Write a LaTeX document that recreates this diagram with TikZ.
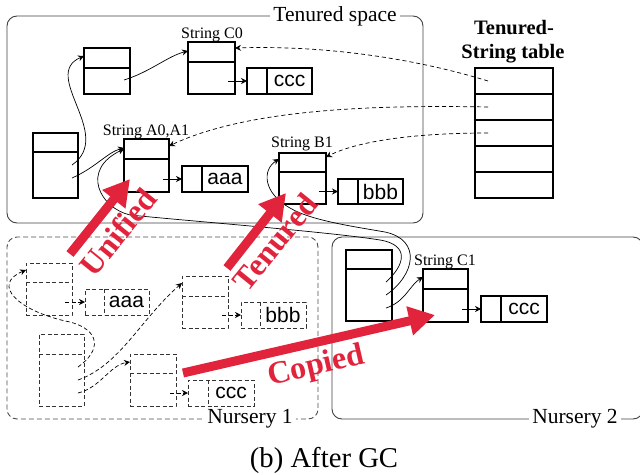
\documentclass[tikz,border=0pt]{standalone}
\usepackage{fontspec}
\setmainfont{Liberation Serif}
\newfontfamily\sansf{Liberation Sans}
\usetikzlibrary{arrows.meta,fit}
\definecolor{hired}{RGB}{226,35,60}
\tikzset{
 objbox/.style={draw=black, line width=1.2pt, inner sep=0pt, outer sep=0pt},
 dobj/.style={draw=black!80, line width=0.8pt, dash pattern=on 4pt off 2.5pt, inner sep=0pt, outer sep=0pt},
 ptr/.style={-{Stealth[length=6pt,width=6pt,inset=2pt]}, line width=0.7pt},
 dptr/.style={ptr, dash pattern=on 4pt off 2.5pt},
 tabptr/.style={ptr, dash pattern=on 4pt off 3pt},
 region/.style={draw=black!75, line width=0.9pt, rounded corners=10pt, inner sep=0pt},
 reglabel/.style={fill=white, inner sep=3pt, font=\fontsize{21.5}{24}\selectfont},
 strlabel/.style={font=\fontsize{16}{18}\selectfont, anchor=base, inner sep=0pt},
 titlelabel/.style={font=\bfseries\fontsize{20.5}{23}\selectfont, anchor=base, inner sep=0pt},
 datatext/.style={font=\sansf\fontsize{21}{24}\selectfont, inner sep=0pt},
 bigred/.style={draw=hired, line width=9pt, -{Triangle[length=26pt,width=28pt]}},
 redtext/.style={text=hired, font=\bfseries\fontsize{32}{34}\selectfont, inner sep=0pt},
}
\newcommand{\ptrbox}[7]{%
 \node[#2, fit={(#3,#4)(#5,#6)}] (#1) {};
 \draw[#2] (#3,#7) -- (#5,#7);
}
\newcommand{\strbox}[8]{%
 \node[#2, fit={(#3,#4)(#5,#6)}] (#1) {};
 \draw[#2] (#7,#4) -- (#7,#6);
 \node[datatext] at ({(#7+#5)/2},{(#4+#6)/2}) {#8};
}
\begin{document}
\begin{tikzpicture}[x=1pt,y=-1pt]
\useasboundingbox (0,0) rectangle (640,474);
% regions
\node[region, fit={(7,16)(423,223)}] (tenured) {};
\node[reglabel] (tenlbl) at (335,16) {Tenured space};
\node[region, draw=black!70, dash pattern=on 5pt off 3pt, fit={(7,237)(318,419)}] (nur1) {};
\node[reglabel] (n1lbl) at (250,419) {Nursery 1};
\node[region, fit={(332,237)(643,419)}] (nur2) {};
\node[reglabel] (n2lbl) at (575,419) {Nursery 2};
% table
\node[titlelabel] (tt1) at (514,34) {Tenured-};
\node[titlelabel] (tt2) at (513,58) {String table};
\node[objbox, fit={(475,68)(553,198)}] (tbl) {};
\foreach \yy in {94,120,146,172} \draw[line width=1.2pt] (475,\yy) -- (553,\yy);
% tenured objects
\ptrbox{t0}{objbox}{84}{48}{130}{94}{68}
\ptrbox{c0}{objbox}{188}{42}{235}{94}{62}
\strbox{c0s}{objbox}{247}{68}{312}{94}{267}{ccc}
\ptrbox{tl}{objbox}{33}{133}{78}{198}{152}
\ptrbox{a01}{objbox}{124}{139}{169}{192}{159}
\strbox{a0s}{objbox}{182}{166}{248}{192}{202}{aaa}
\ptrbox{b1}{objbox}{279}{153}{326}{204}{172}
\strbox{b1s}{objbox}{338}{179}{403}{204}{358}{bbb}
% nursery 2
\ptrbox{nl2}{objbox}{346}{250}{392}{321}{269}
\ptrbox{c1}{objbox}{423}{269}{468}{322}{289}
\strbox{c1s}{objbox}{481}{296}{547}{322}{501}{ccc}
% nursery 1
\ptrbox{na}{dobj}{26}{263}{72}{315}{282}
\strbox{nas}{dobj}{85}{289}{149}{315}{104}{aaa}
\ptrbox{nb}{dobj}{182}{276}{228}{328}{296}
\strbox{nbs}{dobj}{241}{302}{306}{328}{260}{bbb}
\ptrbox{nl}{dobj}{39}{334}{84}{406}{354}
\ptrbox{nc}{dobj}{130}{354}{176}{406}{373}
\strbox{ncs}{dobj}{188}{380}{254}{406}{208}{ccc}
% labels
\node[strlabel] (lc0) at (212,38) {String C0};
\node[strlabel] (la) at (146,135) {String A0,A1};
\node[strlabel] (lb) at (302,147) {String B1};
\node[strlabel] (lc1) at (445,265) {String C1};
% short pointers
\coordinate (pc0) at (228,81); \draw[ptr] (pc0) -- (c0s.west);
\coordinate (pa) at (163,179); \draw[ptr] (pa) -- (a0s.west);
\coordinate (pb) at (319,191.5); \draw[ptr] (pb) -- (b1s.west);
\coordinate (pc1) at (462,309); \draw[ptr] (pc1) -- (c1s.west);
\coordinate (pna) at (65,302); \draw[dptr] (pna) -- (nas.west);
\coordinate (pnb) at (222,315); \draw[dptr] (pnb) -- (nbs.west);
\coordinate (pnc) at (170,393); \draw[dptr] (pnc) -- (ncs.west);
% curved pointers in tenured space
\coordinate (pt0) at (124,80);
\draw[ptr] (pt0) .. controls (150,72) and (168,56) .. ([yshift=-9pt]c0.north west);
\coordinate (ptl1) at (72,165);
\draw[ptr] (ptl1) .. controls (115,135) and (40,75) .. ([yshift=-8pt]t0.north west);
\coordinate (ptl2) at (72,178);
\draw[ptr] (ptl2) .. controls (95,168) and (108,152) .. ([yshift=-9pt]a01.north west);
% from nursery 2
\coordinate (pn2a) at (386,282);
\draw[ptr] (pn2a) .. controls (405,265) and (410,245) .. (380,240) .. controls (330,232) and (200,222) .. (130,215) .. controls (100,208) and (80,170) .. ([yshift=-10pt]a01.north west);
\coordinate (pn2b) at (386,295);
\draw[ptr] (pn2b) .. controls (415,275) and (422,240) .. (385,232) .. controls (350,226) and (310,220) .. (290,208) .. controls (263,193) and (262,170) .. ([yshift=-6pt]b1.north west);
\coordinate (pn2c) at (386,308);
\draw[ptr] (pn2c) .. controls (405,302) and (410,285) .. ([yshift=-8pt]c1.north west);
% from table
\coordinate (r1) at (488,81);
\draw[tabptr] (r1) .. controls (420,60) and (330,45) .. ([yshift=-6pt]c0.north east);
\coordinate (r2) at (488,107);
\draw[tabptr] (r2) .. controls (380,105) and (250,108) .. ([yshift=-7pt]a01.north east);
\coordinate (r3) at (488,133);
\draw[tabptr] (r3) .. controls (420,133) and (360,140) .. ([yshift=-4pt]b1.north east);
% nursery 1 dashed curves
\coordinate (pnl1) at (78,367);
\draw[dptr] (pnl1) .. controls (102,350) and (100,330) .. (70,322) .. controls (20,312) and (-10,285) .. ([yshift=-7pt]na.north west);
\coordinate (pnl2) at (78,380);
\draw[dptr] (pnl2) .. controls (120,365) and (140,320) .. ([yshift=-7pt]nb.north west);
\coordinate (pnl3) at (78,393);
\draw[dptr] (pnl3) .. controls (100,388) and (110,365) .. ([yshift=-8pt]nc.north west);
% red arrows
\coordinate (u0) at (70,254); \coordinate (u1) at (130,179);
\draw[bigred] (u0) -- (u1);
\coordinate (tr0) at (227,268); \coordinate (tr1) at (286,193);
\draw[bigred] (tr0) -- (tr1);
\coordinate (k0) at (183,373); \coordinate (k1) at (435,315);
\draw[bigred] (k0) -- (k1);
\node[redtext, rotate=51] (utxt) at (118,232) {Unified};
\node[redtext, rotate=51] (ttxt) at (275,242) {Tenured};
\node[redtext, rotate=13] (ctxt) at (316,367) {Copied};
% caption
\node[font=\fontsize{28.7}{32}\selectfont, anchor=base, inner sep=0pt] (cap) at (324,467) {(b) After GC};
\end{tikzpicture}
\end{document}
